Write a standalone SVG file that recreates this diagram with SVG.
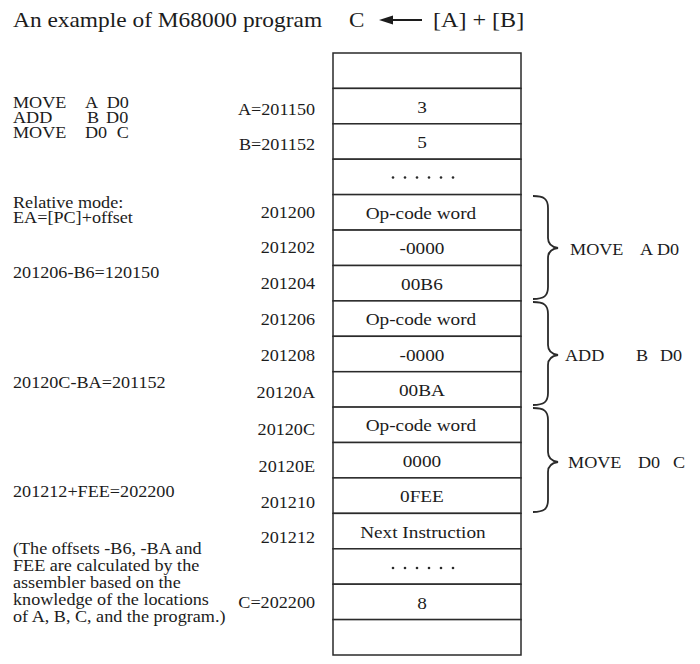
<svg xmlns="http://www.w3.org/2000/svg" width="700" height="664" viewBox="0 0 700 664">
<style>
text{font-family:"Liberation Serif","Times New Roman",serif;fill:#1c1c1c}
.t{font-size:21px}
.l{font-size:16.5px}
.a{font-size:16.5px;text-anchor:end}
.c{font-size:17.5px;text-anchor:middle}
.cell{fill:#fff;stroke:#2a2a2a;stroke-width:1.5}
.br{fill:none;stroke:#2a2a2a;stroke-width:1.8}
.dot{fill:#2a2a2a}
</style>
<rect width="700" height="664" fill="#fff"/>
<g id="memory">
<g id="m0"><rect class="cell" x="333" y="53" width="188" height="35.4"/></g>
<g id="m1"><rect class="cell" x="333" y="88.4" width="188" height="35.4"/><text class="c" transform="scale(1.1,1)" x="383.6" y="113">3</text></g>
<g id="m2"><rect class="cell" x="333" y="123.8" width="188" height="35.4"/><text class="c" transform="scale(1.1,1)" x="383.6" y="148.5">5</text></g>
<g id="m3"><rect class="cell" x="333" y="159.2" width="188" height="35.4"/>
<circle class="dot" cx="393" cy="177.5" r="1.3"/><circle class="dot" cx="405" cy="177.5" r="1.3"/><circle class="dot" cx="417" cy="177.5" r="1.3"/><circle class="dot" cx="429" cy="177.5" r="1.3"/><circle class="dot" cx="441" cy="177.5" r="1.3"/><circle class="dot" cx="453" cy="177.5" r="1.3"/></g>
<g id="m4"><rect class="cell" x="333" y="194.6" width="188" height="35.4"/><text class="c" transform="scale(1.1,1)" x="382.7" y="219">Op-code word</text></g>
<g id="m5"><rect class="cell" x="333" y="230.1" width="188" height="35.4"/><text class="c" transform="scale(1.1,1)" x="383.6" y="254.5">-0000</text></g>
<g id="m6"><rect class="cell" x="333" y="265.5" width="188" height="35.4"/><text class="c" transform="scale(1.1,1)" x="383.6" y="290">00B6</text></g>
<g id="m7"><rect class="cell" x="333" y="300.9" width="188" height="35.4"/><text class="c" transform="scale(1.1,1)" x="382.7" y="325.5">Op-code word</text></g>
<g id="m8"><rect class="cell" x="333" y="336.3" width="188" height="35.4"/><text class="c" transform="scale(1.1,1)" x="383.6" y="361">-0000</text></g>
<g id="m9"><rect class="cell" x="333" y="371.7" width="188" height="35.4"/><text class="c" transform="scale(1.1,1)" x="383.6" y="396.5">00BA</text></g>
<g id="m10"><rect class="cell" x="333" y="407.1" width="188" height="35.4"/><text class="c" transform="scale(1.1,1)" x="382.7" y="431.5">Op-code word</text></g>
<g id="m11"><rect class="cell" x="333" y="442.5" width="188" height="35.4"/><text class="c" transform="scale(1.1,1)" x="383.6" y="467">0000</text></g>
<g id="m12"><rect class="cell" x="333" y="477.9" width="188" height="35.4"/><text class="c" transform="scale(1.1,1)" x="383.6" y="502.5">0FEE</text></g>
<g id="m13"><rect class="cell" x="333" y="513.4" width="188" height="35.4"/><text class="c" transform="scale(1.1,1)" x="384.5" y="538">Next Instruction</text></g>
<g id="m14"><rect class="cell" x="333" y="548.8" width="188" height="35.4"/>
<circle class="dot" cx="393" cy="568" r="1.3"/><circle class="dot" cx="405" cy="568" r="1.3"/><circle class="dot" cx="417" cy="568" r="1.3"/><circle class="dot" cx="429" cy="568" r="1.3"/><circle class="dot" cx="441" cy="568" r="1.3"/><circle class="dot" cx="453" cy="568" r="1.3"/></g>
<g id="m15"><rect class="cell" x="333" y="584.2" width="188" height="35.4"/><text class="c" transform="scale(1.1,1)" x="383.6" y="609">8</text></g>
<g id="m16"><rect class="cell" x="333" y="619.6" width="188" height="35.4"/></g>
</g>
<g id="title">
<line x1="388" y1="20" x2="422" y2="20" stroke="#1c1c1c" stroke-width="1.8"/>
<polygon points="379,20 393,15.5 393,24.5" fill="#1c1c1c"/>
<g transform="scale(1.1,1)">
<text class="t" x="11.82" y="27" textLength="281" lengthAdjust="spacingAndGlyphs">An example of M68000 program</text>
<text class="t" x="317.3" y="27">C</text>
<text class="t" x="393.6" y="27" textLength="83" lengthAdjust="spacingAndGlyphs">[A] + [B]</text>
</g>
</g>
<g id="program-listing" transform="scale(1.1,1)">
<text class="l" y="108.3"><tspan x="11.82">MOVE</tspan><tspan x="77.3">A</tspan><tspan x="97">D0</tspan></text>
<text class="l" y="123.3"><tspan x="11.82">ADD</tspan><tspan x="79.1">B</tspan><tspan x="96.4">D0</tspan></text>
<text class="l" y="138.3"><tspan x="11.82">MOVE</tspan><tspan x="77.3">D0</tspan><tspan x="106.1">C</tspan></text>
</g>
<g id="notes" transform="scale(1.1,1)">
<text class="l" x="11.82" y="208.3">Relative mode:</text>
<text class="l" x="11.82" y="223.3">EA=[PC]+offset</text>
<text class="l" x="11.82" y="278.3">201206-B6=120150</text>
<text class="l" x="11.82" y="388.3">20120C-BA=201152</text>
<text class="l" x="11.82" y="496.7">201212+FEE=202200</text>
<text class="l" x="11.82" y="554">(The offsets -B6, -BA and</text>
<text class="l" x="11.82" y="571.5">FEE are calculated by the</text>
<text class="l" x="11.82" y="588.5">assembler based on the</text>
<text class="l" x="11.82" y="605.5">knowledge of the locations</text>
<text class="l" x="11.82" y="622">of A, B, C, and the program.)</text>
</g>
<g id="addresses" transform="scale(1.1,1)">
<text class="a" x="286.4" y="115">A=201150</text>
<text class="a" x="286.4" y="150">B=201152</text>
<text class="a" x="286.4" y="218">201200</text>
<text class="a" x="286.4" y="253">201202</text>
<text class="a" x="286.4" y="289">201204</text>
<text class="a" x="286.4" y="325">201206</text>
<text class="a" x="286.4" y="361">201208</text>
<text class="a" x="286.4" y="398">20120A</text>
<text class="a" x="286.4" y="435">20120C</text>
<text class="a" x="286.4" y="472">20120E</text>
<text class="a" x="286.4" y="508">201210</text>
<text class="a" x="286.4" y="543">201212</text>
<text class="a" x="286.4" y="608">C=202200</text>
</g>
<g id="connectors">
<path class="br" d="M533,196 C544,196 548,199 548,208 L548,238 C548,244 551,247 558,248 C551,249 548,252 548,258 L548,287 C548,296 544,299 533,299"/>
<path class="br" d="M533,302 C544,302 548,305 548,314 L548,345 C548,351 551,354 558,355 C551,356 548,359 548,365 L548,393 C548,402 544,405 533,405"/>
<path class="br" d="M533,408 C544,408 548,411 548,420 L548,452 C548,458 551,461 558,462 C551,463 548,466 548,472 L548,500 C548,509 544,512 533,512"/>
</g>
<g id="instr-labels" transform="scale(1.1,1)">
<text class="l" y="255"><tspan x="518.2">MOVE</tspan><tspan x="581.8">A</tspan><tspan x="597.3">D0</tspan></text>
<text class="l" y="361.5"><tspan x="513.6">ADD</tspan><tspan x="578.2">B</tspan><tspan x="600">D0</tspan></text>
<text class="l" y="468.3"><tspan x="516.4">MOVE</tspan><tspan x="580">D0</tspan><tspan x="611.8">C</tspan></text>
</g>
</svg>
